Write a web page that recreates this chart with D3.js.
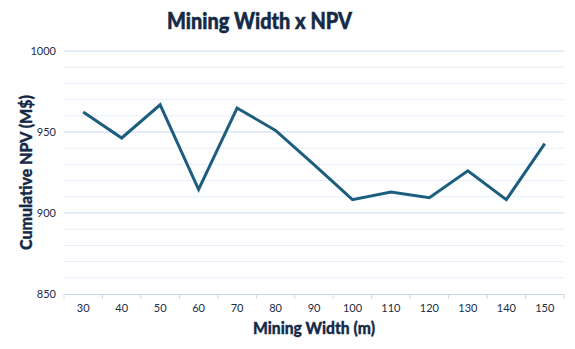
<!DOCTYPE html>
<html>
<head>
<meta charset="utf-8">
<script src="https://cdn.jsdelivr.net/npm/d3@7"></script>
<style>
  html, body { margin: 0; padding: 0; background: #fff; }
  svg { display: block; }
</style>
</head>
<body>
<svg id="chart" width="575" height="349"></svg>
<script>
// Mining width (m) against cumulative NPV (M$)
const widths = [30, 40, 50, 60, 70, 80, 90, 100, 110, 120, 130, 140, 150];
const npv = [962.3, 946.3, 966.8, 914.5, 964.8, 951, 929.8, 908.2, 913, 909.5, 926, 908.2, 942.8];
const yTicks = [850, 900, 950, 1000];
const yMinor = d3.range(850, 1001, 10);

const svg = d3.select("#chart");
const W = 575, H = 349;
const margin = { top: 51, right: 11, bottom: 55, left: 64 };
const plotW = W - margin.left - margin.right;
const plotH = H - margin.top - margin.bottom;

const x = d3.scaleBand().domain(widths).range([margin.left, margin.left + plotW]);
const y = d3.scaleLinear().domain([850, 1000]).range([margin.top + plotH, margin.top]);

const textColor = "#1c2b45";
const titleColor = "#152a47";
const font = "Lato, 'Open Sans', sans-serif";

// minor gridlines
svg.append("g")
  .selectAll("line")
  .data(yMinor.filter(v => !yTicks.includes(v)))
  .join("line")
  .attr("x1", margin.left).attr("x2", margin.left + plotW)
  .attr("y1", d => y(d)).attr("y2", d => y(d))
  .attr("stroke", "#e6eef8").attr("stroke-width", 1);

// major gridlines
svg.append("g")
  .selectAll("line")
  .data(yTicks.filter(v => v !== 850))
  .join("line")
  .attr("x1", margin.left).attr("x2", margin.left + plotW)
  .attr("y1", d => y(d)).attr("y2", d => y(d))
  .attr("stroke", "#c6d9ee").attr("stroke-width", 1);

// y axis labels
const yAxis = svg.append("g")
  .attr("transform", `translate(${margin.left},0)`)
  .call(d3.axisLeft(y).tickValues(yTicks).tickFormat(d3.format("d")).tickSize(0).tickPadding(8));
yAxis.select(".domain").remove();
yAxis.selectAll("text")
  .attr("font-family", font).attr("font-size", 11).attr("fill", textColor);

// x axis with category separators
const xAxis = svg.append("g")
  .attr("transform", `translate(0,${margin.top + plotH})`)
  .call(d3.axisBottom(x).tickSize(0).tickPadding(10));
xAxis.select(".domain").attr("stroke", "#c6d9ee").attr("stroke-width", 1.2);
xAxis.selectAll("text")
  .attr("font-family", font).attr("font-size", 11).attr("fill", textColor);
const bounds = widths.map(d => x(d)).concat([x(widths[widths.length - 1]) + x.bandwidth()]);
xAxis.selectAll("line.sep")
  .data(bounds)
  .join("line")
  .attr("class", "sep")
  .attr("x1", d => d).attr("x2", d => d)
  .attr("y1", 0).attr("y2", 5)
  .attr("stroke", "#c6d9ee").attr("stroke-width", 1);

// NPV line
const line = d3.line()
  .x((d, i) => x(widths[i]) + x.bandwidth() / 2)
  .y(d => y(d));
svg.append("path")
  .datum(npv)
  .attr("d", line)
  .attr("fill", "none")
  .attr("stroke", "#1d5e7e")
  .attr("stroke-width", 3)
  .attr("stroke-linejoin", "miter");

// heavy headings
function heading(sel, size, len, sw) {
  return sel
    .attr("font-family", font).attr("font-weight", 900)
    .attr("font-size", size).attr("fill", titleColor)
    .attr("stroke", titleColor).attr("stroke-width", sw)
    .attr("textLength", len).attr("lengthAdjust", "spacingAndGlyphs");
}

heading(svg.append("text").attr("x", 167).attr("y", 28.5), 22.5, 185, 0.5)
  .text("Mining Width x NPV");

heading(svg.append("text").attr("x", 253).attr("y", 333.5), 17, 122, 0.35)
  .text("Mining Width (m)");

heading(svg.append("text").attr("transform", "translate(31.5,250) rotate(-90)"), 17, 155, 0.35)
  .text("Cumulative NPV (M$)");
</script>
</body>
</html>
